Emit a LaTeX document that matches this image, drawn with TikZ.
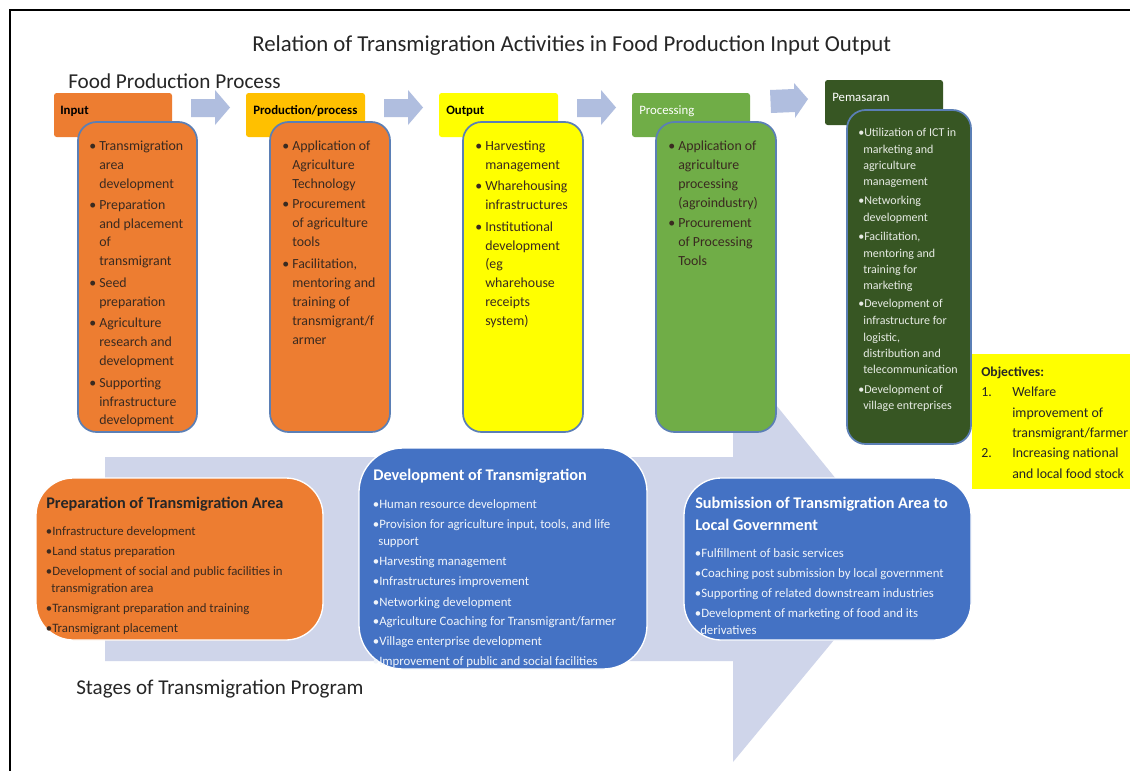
\documentclass[tikz,border=0pt]{standalone}
\usepackage{fontspec}
\setmainfont{Carlito}
\definecolor{orng}{HTML}{ED7D31}
\definecolor{gold}{HTML}{FFC000}
\definecolor{yel}{HTML}{FFFF00}
\definecolor{grn}{HTML}{70AD47}
\definecolor{dgrn}{HTML}{375623}
\definecolor{blu}{HTML}{4472C4}
\definecolor{bedge}{HTML}{5B7FB5}
\definecolor{arrowc}{HTML}{B0BEDF}
\definecolor{bigarrow}{HTML}{CFD5EA}
\definecolor{txt}{HTML}{3A2A20}
\newcounter{tl}
% one printed text line, y = vertical centre of the lower-case letters
\newcommand{\tl}[4]{\stepcounter{tl}\node[linetext,#3] (t\arabic{tl}) at (#1,#2+5) {#4};}
% bullet at x1, text at x2
\newcommand{\bl}[5]{\tl{#1}{#3}{#4}{•}\tl{#2}{#3}{#4}{#5}}
\tikzset{
  linetext/.style={inner sep=0pt,anchor=base west},
  panel/.style={draw=bedge,line width=1.3pt,rounded corners=14pt},
  stagebox/.style={draw=white,line width=1pt},
  body/.style={font=\fontsize{10.4}{13}\selectfont,text=txt},
  mkt/.style={font=\fontsize{9}{11}\selectfont,text=white!88!dgrn},
  obj/.style={font=\fontsize{10.4}{12}\selectfont,text=black!85},
  headf/.style={font=\fontsize{9.6}{11}\selectfont\bfseries,text=black},
  headw/.style={font=\fontsize{9.6}{11}\selectfont,text=white},
  stage/.style={font=\fontsize{9.6}{11}\selectfont,text=txt},
  stagew/.style={font=\fontsize{9.6}{11}\selectfont,text=white!92!blu},
  stagetitle/.style={font=\fontsize{12.2}{14}\selectfont\bfseries,text=black!85},
  stagetitlew/.style={font=\fontsize{12.2}{14}\selectfont\bfseries,text=white},
  big/.style={font=\fontsize{15.9}{18}\selectfont,text=black!85},
  flow/.style={fill=arrowc},
}
\begin{document}
\begin{tikzpicture}[x=0.75pt,y=-0.75pt]
\useasboundingbox (0,0) rectangle (1130,771);
\fill[white] (0,0) rectangle (1130,771);
% outer frame
\draw[line width=1.5pt,black] (1130,9.5) -- (9.5,9.5) -- (9.5,771);
% big stage arrow
\fill[bigarrow] (105,457) -- (733,457) -- (733,352) -- (901,559) -- (733,762) -- (733,661) -- (105,661) -- cycle;
% titles
\node[linetext,big,font=\fontsize{17.1}{20}\selectfont] (title) at (252,51) {Relation of Transmigration Activities in Food Production Input Output};
\node[linetext,big] (fpp) at (68,88.5) {Food Production Process};
\node[linetext,big,font=\fontsize{15.8}{18}\selectfont] (stp) at (76,694.5) {Stages of Transmigration Program};
% flow arrows
\fill[flow] (191,99) -- (215,99) -- (215,90) -- (230,107.5) -- (215,125) -- (215,117) -- (191,117) -- cycle;
\fill[flow] (384,99) -- (408,99) -- (408,90) -- (423,107.5) -- (408,125) -- (408,117) -- (384,117) -- cycle;
\fill[flow] (577,99) -- (601,99) -- (601,90) -- (616,107.5) -- (601,125) -- (601,117) -- (577,117) -- cycle;
\fill[flow] (770,90) -- (794,89) -- (794,83) -- (808,99) -- (795,118) -- (795,112) -- (771,113) -- cycle;
% headers
\fill[orng,rounded corners=2pt] (54,93) rectangle (172,137);
\fill[gold,rounded corners=2pt] (246,93) rectangle (365,137);
\fill[yel,rounded corners=2pt] (439,93) rectangle (558,137);
\fill[grn,rounded corners=2pt] (632,93) rectangle (750,137);
\fill[dgrn,rounded corners=2pt] (825,80) rectangle (943,125);
\tl{60}{109}{headf}{Input}
\tl{253}{109}{headf}{Production/process}
\tl{446}{109}{headf}{Output}
\tl{639}{109}{headw}{Processing}
\tl{832}{96}{headw}{Pemasaran}
% panels
\filldraw[panel,fill=orng] (78,122) rectangle (197,432);
\filldraw[panel,fill=orng] (270,122) rectangle (390,432);
\filldraw[panel,fill=yel] (463,122) rectangle (583,432);
\filldraw[panel,fill=grn] (656,122) rectangle (776,432);
\filldraw[panel,fill=dgrn] (847,110) rectangle (971,444);
% Input panel
\bl{89}{99}{145}{body}{Transmigration}
\tl{99}{164}{body}{area}
\tl{99}{183}{body}{development}
\bl{89}{99}{204}{body}{Preparation}
\tl{99}{223}{body}{and placement}
\tl{99}{241}{body}{of}
\tl{99}{260}{body}{transmigrant}
\bl{89}{99}{282}{body}{Seed}
\tl{99}{301}{body}{preparation}
\bl{89}{99}{322}{body}{Agriculture}
\tl{99}{341}{body}{research and}
\tl{99}{360}{body}{development}
\bl{89}{99}{382}{body}{Supporting}
\tl{99}{401}{body}{infrastructure}
\tl{99}{419}{body}{development}
% Production panel
\bl{282}{292}{145}{body}{Application of}
\tl{292}{164}{body}{Agriculture}
\tl{292}{183}{body}{Technology}
\bl{282}{292}{203}{body}{Procurement}
\tl{292}{222}{body}{of agriculture}
\tl{292}{241}{body}{tools}
\bl{282}{292}{263}{body}{Facilitation,}
\tl{292}{282}{body}{mentoring and}
\tl{292}{301}{body}{training of}
\tl{292}{320}{body}{transmigrant/f}
\tl{292}{339}{body}{armer}
% Output panel
\bl{475}{485}{145}{body}{Harvesting}
\tl{485}{164}{body}{management}
\bl{475}{485}{185}{body}{Wharehousing}
\tl{485}{204}{body}{infrastructures}
\bl{475}{485}{226}{body}{Institutional}
\tl{485}{245}{body}{development}
\tl{485}{263}{body}{(eg}
\tl{485}{282}{body}{wharehouse}
\tl{485}{301}{body}{receipts}
\tl{485}{320}{body}{system)}
% Processing panel
\bl{668}{678}{145}{body}{Application of}
\tl{678}{164}{body}{agriculture}
\tl{678}{183}{body}{processing}
\tl{678}{202}{body}{(agroindustry)}
\bl{668}{678}{222}{body}{Procurement}
\tl{678}{241}{body}{of Processing}
\tl{678}{260}{body}{Tools}
% Pemasaran panel
\bl{858}{864}{131.5}{mkt}{Utilization of ICT in}
\tl{863}{148}{mkt}{marketing and}
\tl{863}{164}{mkt}{agriculture}
\tl{863}{180}{mkt}{management}
\bl{858}{864}{199.5}{mkt}{Networking}
\tl{863}{216}{mkt}{development}
\bl{858}{864}{235}{mkt}{Facilitation,}
\tl{863}{252}{mkt}{mentoring and}
\tl{863}{268}{mkt}{training for}
\tl{863}{284}{mkt}{marketing}
\bl{858}{864}{302.5}{mkt}{Development of}
\tl{863}{319.5}{mkt}{infrastructure for}
\tl{863}{336}{mkt}{logistic,}
\tl{863}{352}{mkt}{distribution and}
\tl{863}{368}{mkt}{telecommunication}
\bl{858}{864}{388}{mkt}{Development of}
\tl{863}{404}{mkt}{village entreprises}
% Objectives
\fill[yel] (972,354) rectangle (1130,489);
\tl{981}{371}{obj,font=\fontsize{10.2}{12}\selectfont\bfseries}{Objectives:}
\tl{981}{391}{obj}{1.}
\tl{1012}{391}{obj}{Welfare}
\tl{1012}{412}{obj}{improvement of}
\tl{1012}{432}{obj}{transmigrant/farmer}
\tl{981}{452}{obj}{2.}
\tl{1012}{452}{obj}{Increasing national}
\tl{1012}{473}{obj}{and local food stock}
% stage boxes
\filldraw[stagebox,fill=orng,rounded corners=28pt] (36,478) rectangle (323,640);
\filldraw[stagebox,fill=blu,rounded corners=33pt] (359,448) rectangle (647,669);
\filldraw[stagebox,fill=blu,rounded corners=28pt] (684,478) rectangle (971,640);
% Preparation
\tl{46}{503}{stagetitle}{Preparation of Transmigration Area}
\bl{45.5}{52}{530}{stage}{Infrastructure development}
\bl{45.5}{52}{550}{stage}{Land status preparation}
\bl{45.5}{52}{570}{stage}{Development of social and public facilities in}
\tl{51}{587}{stage}{transmigration area}
\bl{45.5}{52}{607}{stage}{Transmigrant preparation and training}
\bl{45.5}{52}{627}{stage}{Transmigrant placement}
% Development
\tl{373}{475}{stagetitlew}{Development of Transmigration}
\bl{372.5}{379}{503}{stagew}{Human resource development}
\bl{372.5}{379}{523}{stagew}{Provision for agriculture input, tools, and life}
\tl{378}{540}{stagew}{support}
\bl{372.5}{379}{560}{stagew}{Harvesting management}
\bl{372.5}{379}{580}{stagew}{Infrastructures improvement}
\bl{372.5}{379}{601}{stagew}{Networking development}
\bl{372.5}{379}{620}{stagew}{Agriculture Coaching for Transmigrant/farmer}
\bl{372.5}{379}{640.5}{stagew}{Village enterprise development}
\bl{372.5}{379}{660}{stagew}{Improvement of public and social facilities}
% Submission
\tl{695}{503}{stagetitlew}{Submission of Transmigration Area to}
\tl{695}{525}{stagetitlew}{Local Government}
\bl{694.5}{701}{552}{stagew}{Fulfillment of basic services}
\bl{694.5}{701}{572}{stagew}{Coaching post submission by local government}
\bl{694.5}{701}{592}{stagew}{Supporting of related downstream industries}
\bl{694.5}{701}{612}{stagew}{Development of marketing of food and its}
\tl{700}{629}{stagew}{derivatives}
\end{tikzpicture}
\end{document}
